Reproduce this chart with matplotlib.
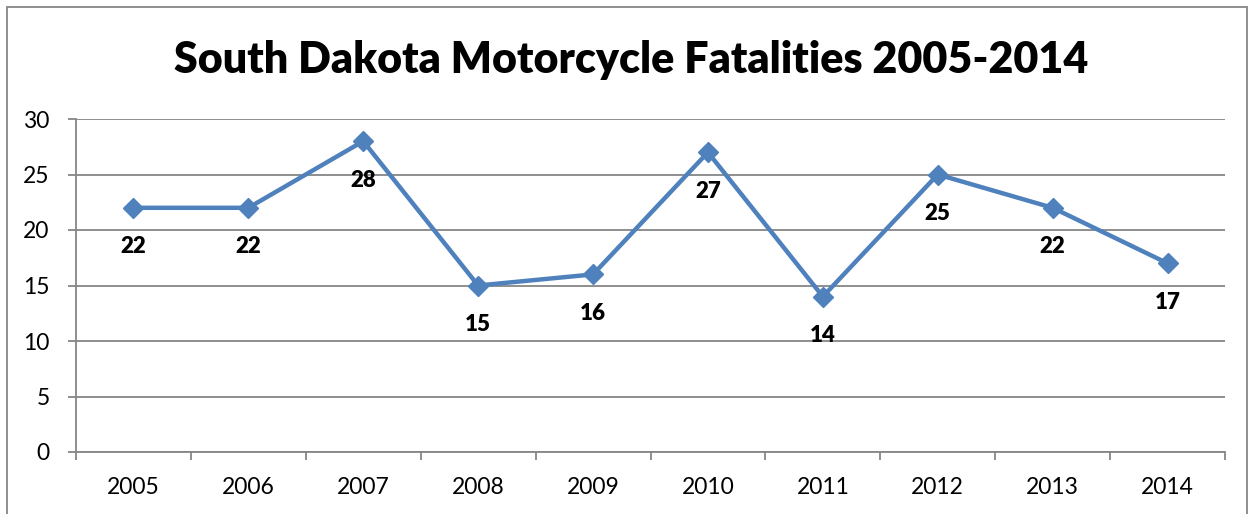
import numpy as np
import matplotlib.pyplot as plt
from matplotlib.patches import Rectangle

# datos
anios = ['2005', '2006', '2007', '2008', '2009', '2010', '2011', '2012', '2013', '2014']
muertes = [22, 22, 28, 15, 16, 27, 14, 25, 22, 17]

plt.rcParams['font.family'] = ['Lato', 'DejaVu Sans']

gris = '#868686'
azul = '#4F81BD'

fig = plt.figure(figsize=(12.53, 5.14), dpi=100)
ax = fig.add_axes([76 / 1253, 1 - 452 / 514, (1225 - 76) / 1253, (452 - 119) / 514])

x = np.arange(len(anios))
ax.plot(x, muertes, color=azul, lw=3.2, marker='D', ms=10, zorder=3)

for xi, v in zip(x, muertes):
    ax.annotate(str(v), (xi, v), xytext=(0, -28), textcoords='offset points',
                ha='center', va='center', fontsize=16, fontweight='heavy')

ax.set_xlim(-0.5, len(anios) - 0.5)
ax.set_ylim(0, 30)
ax.set_yticks(range(0, 31, 5))
ax.yaxis.grid(True, color=gris, lw=1.3)
ax.set_axisbelow(True)

ax.set_xticks(x)
ax.set_xticklabels(anios, fontsize=16.5)
ax.set_xticks(np.arange(-0.5, len(anios)), minor=True)
ax.tick_params(axis='x', which='major', length=0, pad=18)
ax.tick_params(axis='x', which='minor', length=6, color=gris, width=1.3)
ax.tick_params(axis='y', length=6, color=gris, width=1.3, labelsize=16.5, pad=13)

for s in ['top', 'right']:
    ax.spines[s].set_visible(False)
for s in ['left', 'bottom']:
    ax.spines[s].set_color(gris)
    ax.spines[s].set_linewidth(1.3)

fig.text(631 / 1253, 1 - 60 / 514, 'South Dakota Motorcycle Fatalities 2005-2014',
         ha='center', va='center', fontsize=31, fontweight='heavy')

# marco del grafico
fig.patches.append(Rectangle((7 / 1253, -0.05), 1240 / 1253, 1 - 7 / 514 + 0.05,
                             transform=fig.transFigure, fill=False,
                             edgecolor=gris, lw=1.3))

fig.savefig('out.png', dpi=100)
